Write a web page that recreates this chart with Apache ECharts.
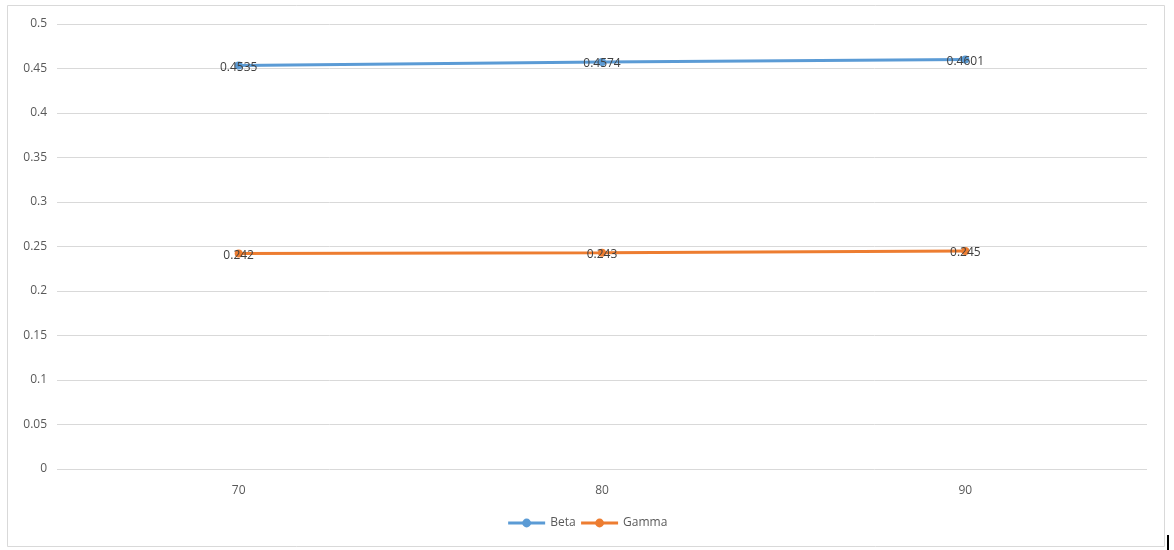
<!DOCTYPE html>
<html>
<head>
<meta charset="utf-8">
<script src="https://cdn.jsdelivr.net/npm/echarts@6/dist/echarts.min.js"></script>
<style>
  html, body { margin: 0; padding: 0; background: #fff; }
  #chart { width: 1174px; height: 550px; }
</style>
</head>
<body>
<div id="chart"></div>
<script>
// Category axis values and the two series
const categories = ['70', '80', '90'];
const betaValues = [0.4535, 0.4574, 0.4601];
const gammaValues = [0.242, 0.243, 0.245];
const yTicks = [0, 0.05, 0.1, 0.15, 0.2, 0.25, 0.3, 0.35, 0.4, 0.45, 0.5];

const textColor = '#595959';
const fontFamily = '"Open Sans", "Liberation Sans", sans-serif';

const chart = echarts.init(document.getElementById('chart'), null, { renderer: 'canvas' });

function lineSeries(name, data, color) {
  return {
    name: name,
    type: 'line',
    data: data,
    symbol: 'circle',
    symbolSize: 8,
    lineStyle: { width: 3, color: color },
    itemStyle: { color: color },
    label: {
      show: true,
      position: 'inside',
      offset: [0, 2],
      color: '#404040',
      fontSize: 12,
      fontFamily: fontFamily,
      formatter: p => String(p.value)
    },
    emphasis: { disabled: true },
    z: 3
  };
}

chart.setOption({
  animation: false,
  backgroundColor: '#fff',
  graphic: [
    {
      type: 'rect',
      shape: { x: 7.5, y: 5.5, width: 1157, height: 541 },
      style: { fill: 'none', stroke: '#d9d9d9', lineWidth: 1 },
      silent: true
    },
    {
      type: 'rect',
      shape: { x: 1167, y: 535, width: 2, height: 15 },
      style: { fill: '#000' },
      silent: true
    }
  ],
  grid: { left: 57, right: 27, top: 24, bottom: 81 },
  legend: {
    bottom: 16,
    left: 'center',
    itemWidth: 37,
    itemHeight: 11,
    itemGap: 4,
    lineStyle: { width: 3 },
    textStyle: { color: textColor, fontSize: 12, fontFamily: fontFamily },
    data: ['Beta', 'Gamma']
  },
  xAxis: {
    type: 'category',
    data: categories,
    boundaryGap: true,
    axisLine: { show: false },
    axisTick: { show: false },
    axisLabel: { color: textColor, fontSize: 12, fontFamily: fontFamily, margin: 16 },
    splitLine: { show: false }
  },
  yAxis: {
    type: 'value',
    min: 0,
    max: 0.5,
    interval: 0.05,
    axisLine: { show: false },
    axisTick: { show: false },
    axisLabel: {
      color: textColor,
      fontSize: 12,
      fontFamily: fontFamily,
      margin: 10,
      formatter: v => {
        const t = yTicks.find(x => Math.abs(x - v) < 1e-9);
        return String(t !== undefined ? t : +v.toFixed(2));
      }
    },
    splitLine: { lineStyle: { color: '#d9d9d9', width: 1 } }
  },
  series: [
    lineSeries('Beta', betaValues, '#5b9bd5'),
    lineSeries('Gamma', gammaValues, '#ed7d31')
  ]
});
</script>
</body>
</html>
